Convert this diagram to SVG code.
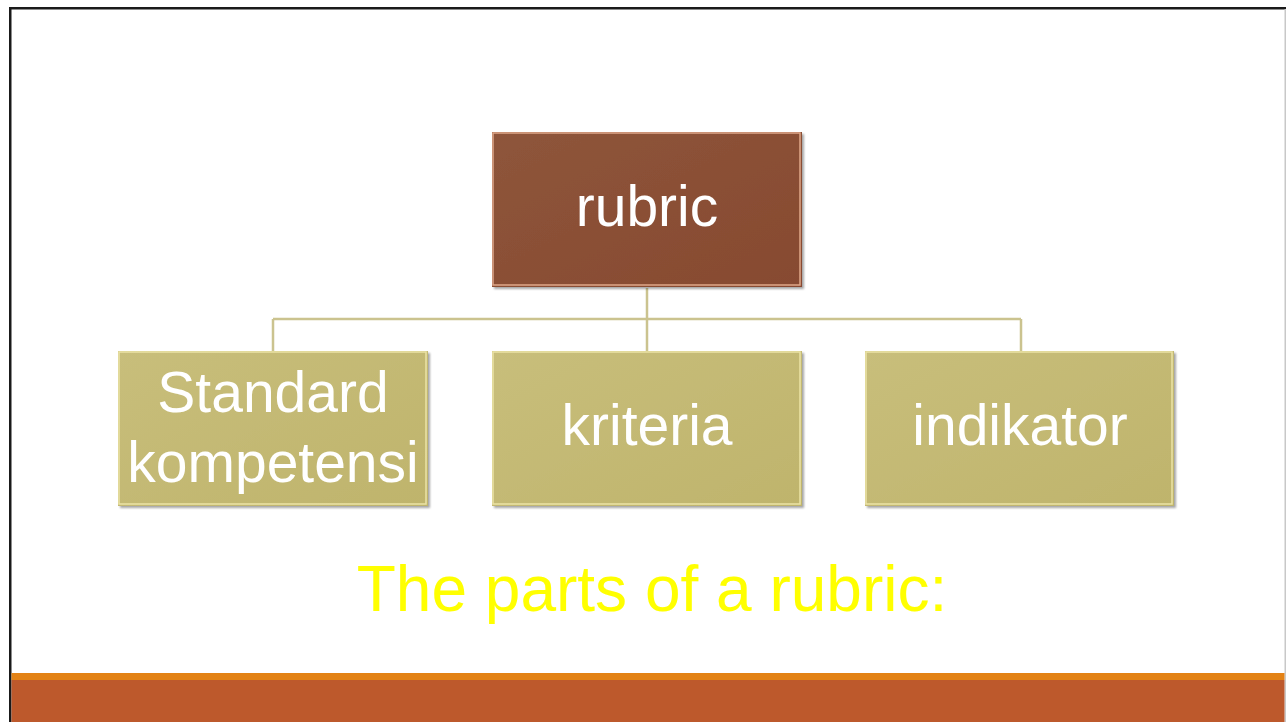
<svg xmlns="http://www.w3.org/2000/svg" width="1286" height="722" viewBox="0 0 1286 722">
  <defs>
    <linearGradient id="gradRoot" x1="0" y1="0" x2="1" y2="1">
      <stop offset="0" stop-color="#8E553B"/>
      <stop offset="1" stop-color="#874A30"/>
    </linearGradient>
    <linearGradient id="gradLeaf" x1="0" y1="0" x2="1" y2="1">
      <stop offset="0" stop-color="#C8BE7B"/>
      <stop offset="1" stop-color="#BFB46C"/>
    </linearGradient>
    <filter id="shadow" x="-5%" y="-5%" width="110%" height="115%">
      <feDropShadow dx="2" dy="2" stdDeviation="1" flood-color="#000" flood-opacity="0.35"/>
    </filter>
  </defs>
  <style>
    .label { font-family: "Liberation Sans", Arial, sans-serif; font-size: 57px; fill: #FFFFFF; text-anchor: middle; }
    .root-hi { fill: none; stroke: #E0A88A; stroke-width: 1.5; }
    .leaf-hi { fill: none; stroke: #ECE4A6; stroke-width: 1.5; }
    .conn { fill: none; stroke: #CBC38F; stroke-width: 2.5; }
    .caption { font-family: "Liberation Sans", Arial, sans-serif; font-size: 64px; fill: #FFFF00; text-anchor: middle; }
  </style>

  <!-- slide background and frame -->
  <rect x="0" y="0" width="1286" height="722" fill="#FFFFFF"/>
  <rect x="9" y="7" width="1277" height="2.5" fill="#1A1A1A"/>
  <rect x="9" y="7" width="2.5" height="715" fill="#1A1A1A"/>
  <rect x="1284.5" y="9" width="1.5" height="713" fill="#C8C8C8"/>

  <!-- footer bands -->
  <rect x="11.5" y="673" width="1273" height="7" fill="#E38215"/>
  <rect x="11.5" y="680" width="1273" height="42" fill="#BD592C"/>

  <!-- connectors -->
  <g id="connectors">
    <path class="conn" d="M647 288 V319"/>
    <path class="conn" d="M273 319 H1021"/>
    <path class="conn" d="M273 319 V351"/>
    <path class="conn" d="M647 319 V351"/>
    <path class="conn" d="M1021 319 V351"/>
  </g>

  <!-- root node -->
  <g id="node-rubric">
    <rect x="492" y="132" width="310" height="155" fill="url(#gradRoot)" filter="url(#shadow)"/>
    <rect class="root-hi" x="493" y="133" width="307" height="152"/>
    <text class="label" x="647" y="226">rubric</text>
  </g>

  <!-- child nodes -->
  <g id="node-standard">
    <rect x="118" y="351" width="310" height="155" fill="url(#gradLeaf)" filter="url(#shadow)"/>
    <rect class="leaf-hi" x="119" y="352" width="307" height="152"/>
    <text class="label" x="273" y="412">Standard</text>
    <text class="label" x="273" y="482">kompetensi</text>
  </g>

  <g id="node-kriteria">
    <rect x="492" y="351" width="310" height="155" fill="url(#gradLeaf)" filter="url(#shadow)"/>
    <rect class="leaf-hi" x="493" y="352" width="307" height="152"/>
    <text class="label" x="647" y="445">kriteria</text>
  </g>

  <g id="node-indikator">
    <rect x="865" y="351" width="309" height="155" fill="url(#gradLeaf)" filter="url(#shadow)"/>
    <rect class="leaf-hi" x="866" y="352" width="306" height="152"/>
    <text class="label" x="1020" y="445">indikator</text>
  </g>

  <!-- caption -->
  <text class="caption" x="652" y="611">The parts of a rubric:</text>
</svg>
